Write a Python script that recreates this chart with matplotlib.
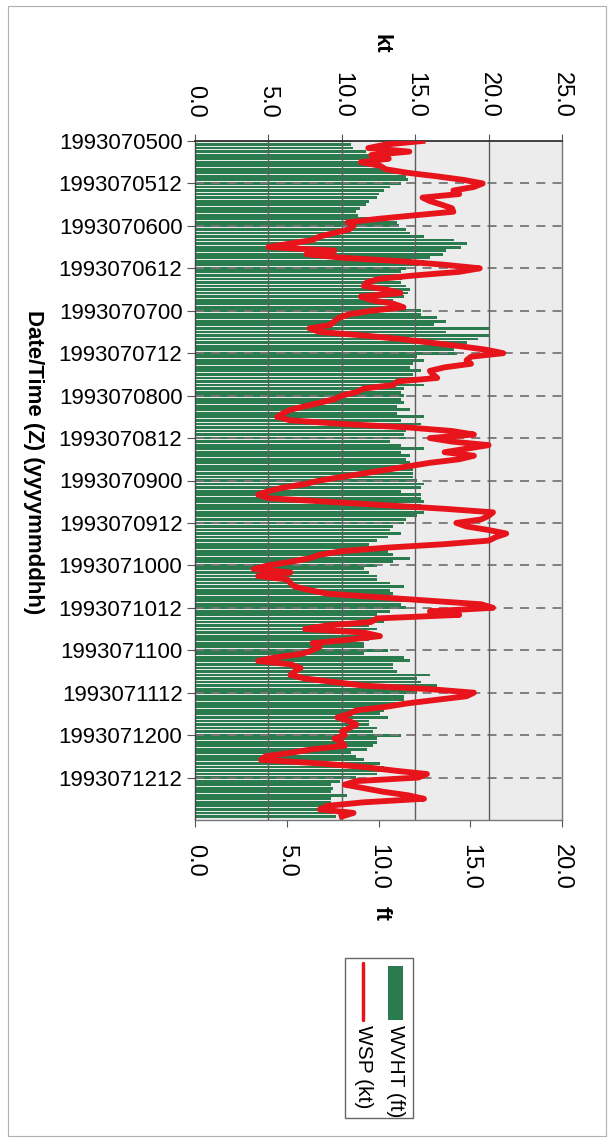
import numpy as np
import matplotlib
matplotlib.use("Agg")
import matplotlib.pyplot as plt
from matplotlib.patches import Rectangle
from matplotlib.lines import Line2D

plt.rcParams['font.family'] = ['Liberation Sans', 'DejaVu Sans']

# hourly values, 1993-07-05 00Z .. 1993-07-12 23Z
wvht_ft = [
    8.5, 8.5, 8.6, 9.3, 9.6, 10.0, 9.5, 10.2, 10.6, 11.0,
    11.5, 11.6, 11.2, 10.6, 10.3, 10.0, 9.9, 9.5, 9.3, 9.0,
    8.8, 8.9, 10.5, 11.0, 11.1, 11.5, 11.7, 12.5, 14.1, 14.8,
    14.5, 13.7, 13.5, 12.8, 12.5, 12.2, 11.5, 11.2, 11.0, 11.3,
    11.2, 11.5, 11.7, 11.6, 11.4, 10.8, 10.8, 11.4, 12.3, 12.3,
    13.2, 13.7, 13.0, 16.1, 13.7, 16.1, 15.4, 14.8, 14.3, 14.1,
    14.3, 12.1, 12.5, 11.9, 11.7, 12.3, 11.9, 12.1, 11.5, 12.5,
    11.4, 11.2, 11.4, 11.2, 11.4, 11.0, 11.7, 11.0, 12.5, 11.2,
    12.3, 11.5, 11.5, 11.4, 11.5, 10.6, 11.2, 12.5, 11.2, 11.7,
    11.5, 11.7, 11.9, 11.9, 11.9, 11.9, 12.1, 12.5, 12.3, 11.2,
    12.3, 12.3, 12.5, 12.3, 12.3, 12.5, 12.1, 11.5, 11.4, 10.8,
    10.6, 11.2, 10.5, 9.9, 9.5, 10.1, 10.5, 10.8, 11.7, 10.8,
    9.9, 9.2, 9.5, 9.9, 9.9, 10.6, 11.4, 10.6, 10.8, 10.6,
    11.4, 11.2, 11.5, 10.6, 9.9, 10.3, 10.3, 9.5, 9.9, 9.5,
    9.5, 9.5, 9.2, 9.2, 10.5, 9.2, 11.4, 11.7, 10.8, 10.8,
    11.0, 12.8, 12.1, 12.3, 13.2, 12.5, 12.1, 11.4, 11.4, 11.0,
    11.0, 10.3, 10.1, 10.5, 9.5, 9.5, 9.9, 9.7, 11.2, 9.9,
    9.9, 9.7, 9.4, 8.5, 8.8, 9.2, 10.1, 10.3, 10.5, 9.9,
    8.8, 7.9, 7.4, 7.5, 7.4, 8.3, 7.4, 7.4, 7.2, 7.4,
    7.5, 7.7,
]

wsp_kt = [
    15.5, 13.0, 11.8, 14.6, 12.0, 13.2, 11.3, 12.6, 13.0, 14.5,
    16.5, 18.3, 19.6, 19.0, 17.6, 18.0, 15.5, 16.0, 16.8, 17.5,
    17.6, 15.0, 12.5, 10.4, 10.8, 10.5, 9.5, 8.5, 8.0, 6.5,
    5.0, 9.5, 7.6, 10.0, 14.0, 17.0, 19.4, 18.0, 15.0, 12.5,
    11.7, 11.5, 13.0, 14.0, 11.3, 12.0, 13.5, 14.2, 12.0, 10.5,
    9.8, 9.5, 9.2, 7.8, 8.5, 11.5, 14.0, 16.0, 18.0, 19.8,
    21.0, 18.8, 18.5, 18.8, 17.0, 16.0, 16.2, 16.5, 13.8, 13.5,
    11.5, 11.0, 10.0, 9.5, 8.5, 7.5, 6.5, 6.0, 5.6, 6.5,
    10.0, 14.5, 17.5, 19.0, 16.0, 17.5, 20.0, 18.5, 17.0, 19.0,
    18.0, 16.0, 14.5, 13.0, 11.5, 10.0, 8.5, 7.5, 6.0, 5.0,
    4.3, 5.0, 9.0, 13.0, 17.0, 20.3, 20.0, 19.5, 17.8, 18.5,
    20.0, 21.2, 20.5, 20.0, 17.0, 13.0, 10.0, 8.5, 7.8, 6.5,
    5.0, 4.0, 6.5, 4.3, 6.3, 6.5, 6.8, 7.8, 9.0, 12.5,
    16.0, 19.5, 20.3, 16.0, 18.0, 12.4, 12.0, 9.0, 7.5, 11.5,
    12.6, 10.5, 8.0, 8.5, 8.0, 7.3, 5.5, 4.3, 6.5, 7.2,
    6.8, 6.5, 7.5, 9.5, 11.5, 16.0, 19.0, 18.5, 16.5, 14.5,
    13.0, 11.0, 10.5, 9.7, 10.5, 11.0, 10.5, 10.0, 10.2, 9.5,
    10.0, 10.2, 8.0, 6.5, 4.8, 4.5, 8.5, 11.5, 13.5, 15.8,
    15.2, 11.0, 10.2, 11.5, 12.8, 14.5, 15.6, 11.5, 9.0, 8.5,
    10.8, 10.0,
]

date_labels = ['1993070500', '1993070512', '1993070600', '1993070612',
               '1993070700', '1993070712', '1993070800', '1993070812',
               '1993070900', '1993070912', '1993071000', '1993071012',
               '1993071100', '1993071112', '1993071200', '1993071212']
ft_ticks = [0, 5, 10, 15, 20]
kt_ticks = [0, 5, 10, 15, 20, 25]

W, H = 612, 1142
hours = np.arange(len(wvht_ft))
tick_hours = np.arange(len(date_labels)) * 12


def fx(px):
    return px / W


def fy(py):
    return 1 - py / H


fig = plt.figure(figsize=(W / 100, H / 100), dpi=100)
ax = fig.add_axes([fx(195), fy(820), fx(562) - fx(195), fy(141) - fy(820)])
ax.set_facecolor('#ececec')

ax.barh(hours, wvht_ft, height=0.8, color='#2a7c4e', zorder=2)
ax.set_xlim(0, 20)
ax.set_ylim(192, 0)
for h in tick_hours[1:]:
    ax.axhline(h, color='#777777', ls=(0, (5, 4)), lw=1.3, zorder=3)

ax.set_xticks(ft_ticks)
ax.set_xticklabels([f"{v:.1f}" for v in ft_ticks], rotation=270, fontsize=17)
ax.set_yticks(tick_hours)
ax.set_yticklabels(date_labels, fontsize=16)
ax.tick_params(axis='x', direction='out', length=5, pad=12, color='#555555')
ax.tick_params(axis='y', direction='out', length=6, pad=3, color='#555555')

ax2 = ax.twiny()
ax2.set_xlim(0, 25)
for v in kt_ticks[1:-1]:
    ax2.axvline(v, color='#5e5e5e', lw=1.0, zorder=1)
ax2.plot(wsp_kt, hours, color='#e8141c', lw=4.2, solid_joinstyle='round', zorder=4)
ax2.set_xticks(kt_ticks)
ax2.set_xticklabels([f"{v:.1f}" for v in kt_ticks], rotation=270, fontsize=17)
ax2.tick_params(axis='x', direction='out', length=5, pad=12, color='#555555')

for s in ax.spines.values():
    s.set_visible(False)
for name, s in ax2.spines.items():
    s.set_color('#777777')
    s.set_linewidth(1.0)
ax2.spines['top'].set_color('#333333')
ax2.spines['top'].set_linewidth(1.3)
ax2.spines['left'].set_color('#444444')

# axis titles (chart is printed sideways)
fig.text(fx(381), fy(44), 'kt', rotation=270, fontsize=16, fontweight='bold',
         ha='center', va='center')
fig.text(fx(381), fy(913), 'ft', rotation=270, fontsize=16, fontweight='bold',
         ha='center', va='center')
fig.text(fx(33), fy(462), 'Date/Time (Z) (yyyymmddhh)', rotation=270, fontsize=16,
         fontweight='bold', ha='center', va='center')

# legend box
fig.patches.append(Rectangle((fx(345), fy(1118)), fx(413) - fx(345), fy(958) - fy(1118),
                             transform=fig.transFigure, facecolor='white',
                             edgecolor='#666666', lw=1.0))
fig.patches.append(Rectangle((fx(388), fy(1020)), fx(403) - fx(388), fy(966) - fy(1020),
                             transform=fig.transFigure, facecolor='#2a7c4e',
                             edgecolor='none'))
fig.lines.append(Line2D([fx(363), fx(363)], [fy(963), fy(1020)], transform=fig.transFigure,
                        color='#e8141c', lw=2.5, solid_capstyle='round'))
fig.text(fx(396), fy(1025), 'WVHT (ft)', rotation=270, fontsize=15, ha='center', va='top')
fig.text(fx(363), fy(1025), 'WSP (kt)', rotation=270, fontsize=15, ha='center', va='top')

# page frame of the scan
fig.patches.append(Rectangle((fx(8), fy(1136)), fx(606) - fx(8), fy(6) - fy(1136),
                             transform=fig.transFigure, fill=False,
                             edgecolor='#b0b0b0', lw=0.8))

fig.savefig('out.png', dpi=100)
